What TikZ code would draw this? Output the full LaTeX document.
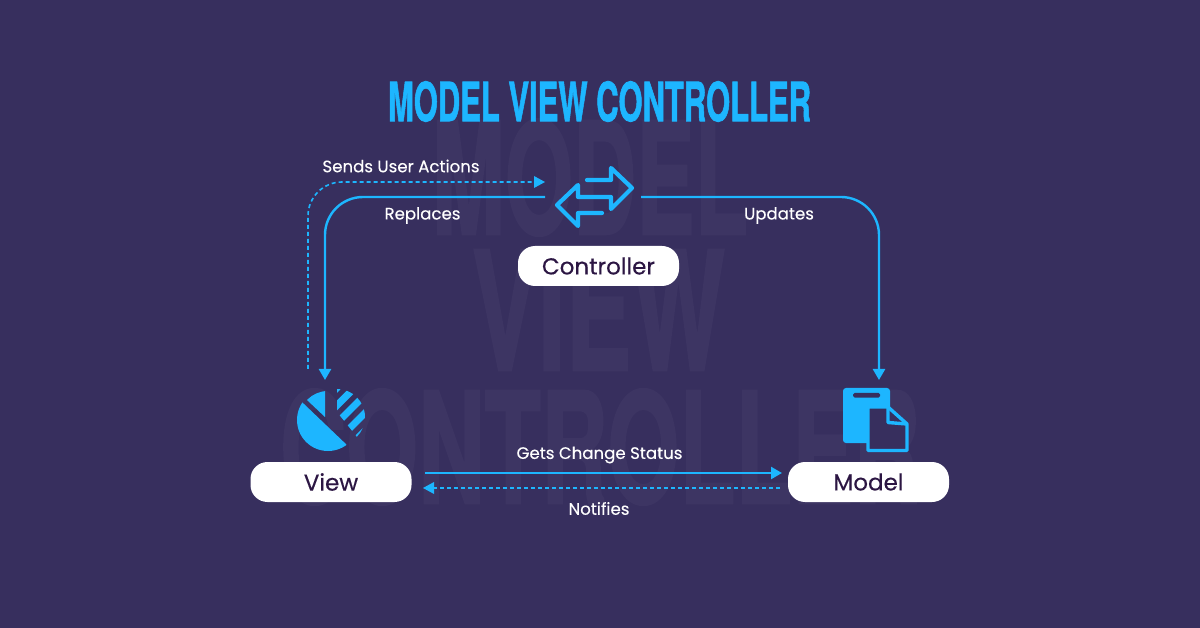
\documentclass[tikz,border=0pt]{standalone}
\usepackage{fontspec}
\setmainfont{Poppins}
\newfontfamily\pillfont[FakeBold=0.35]{Poppins}
\newfontfamily\labfont[FakeBold=0.2]{Poppins}
\newfontfamily\headfont[BoldFeatures={FakeBold=1.6}]{TeX Gyre Heros}
\usetikzlibrary{arrows.meta}
\definecolor{bgc}{HTML}{372F5E}
\definecolor{wmc}{HTML}{3D3563}
\definecolor{blu}{HTML}{1DB6FF}
\definecolor{ink}{HTML}{2C1643}
\tikzset{
  pill/.style={fill=white,rounded corners=17pt,minimum width=161pt,minimum height=40pt,inner sep=0pt,text=ink,font=\pillfont\fontsize{23}{26}\selectfont},
  lab/.style={text=white,inner sep=0pt,font=\labfont\fontsize{16.6}{19}\selectfont},
  wm/.style={text=wmc,inner sep=0pt,font=\headfont\bfseries},
  conn/.style={draw=blu,line width=2.4pt,-{Triangle[length=11pt,width=12pt]}},
  dashconn/.style={draw=blu,line width=1.6pt,dash pattern=on 4pt off 3pt,-{Triangle[length=11pt,width=12pt,line width=0pt,sep=0pt]}},
  iconline/.style={draw=blu,line width=4.2pt,line join=round,line cap=round}
}
\begin{document}
\begin{tikzpicture}[x=1pt,y=-1pt]
\fill[bgc] (0,0) rectangle (1200,628);
\useasboundingbox (0,0) rectangle (1200,628);
% watermark
\node[wm] (wmModel) at (590,177.5) {\resizebox{316pt}{115pt}{MODEL}};
\node[wm] (wmView) at (598.5,310) {\resizebox{253pt}{120pt}{VIEW}};
\node[wm] (wmController) at (600,447) {\resizebox{640pt}{114pt}{CONTROLLER}};
% title
\node[inner sep=0pt,text=blu,font=\headfont\bfseries] (title) at (599.5,101.5) {\resizebox{423pt}{40pt}{MODEL VIEW CONTROLLER}};
% pills
\node[pill] (controller) at (598.5,266) {Controller};
\node[pill] (view) at (331,482) {View};
\node[pill] (model) at (868.5,482) {Model};
% labels
\node[lab] (lsend) at (401,166) {Sends User Actions};
\node[lab] (lrepl) at (422.5,215.5) {Replaces};
\node[lab] (lupd) at (779,215.5) {Updates};
\node[lab] (lgets) at (599.5,455) {Gets Change Status};
\node[lab] (lnoti) at (599,508.5) {Notifies};
% controller icon
\draw[iconline] (587,180) -- (611,180) -- (611,168) -- (632,188) -- (611,209) -- (611,197) -- (578,197) -- (578,185) -- (557,205) -- (578,226) -- (578,213) -- (602,213);
% view icon
\begin{scope}
  \clip (328,420) circle (31);
  \fill[blu] (293,393.5) -- (360,457.5) -- (300,480) -- (270,430) -- cycle;
\end{scope}
\begin{scope}
  \clip (328,420) circle (29);
  \fill[blu] (325,417) -- (325,380) -- (290,380) -- (290,384) -- cycle;
\end{scope}
\begin{scope}
  \clip (337,417) circle (28);
  \clip (337,412) -- (337,380) -- (380,380) -- (380,467) -- (377,462) -- cycle;
  \foreach \s in {725,742.3,760,778,795.7}{
    \draw[blu,line width=7pt] ({\s-417+40},{417-40}) -- ({\s-417-40},{417+40});
  }
\end{scope}
% model icon
\fill[blu,rounded corners=3pt] (843,388) rectangle (890,443);
\fill[bgc,rounded corners=1.5pt] (853,393) rectangle (880,397.5);
\draw[blu,line width=3.4pt,line join=round,fill=bgc] (868,407) -- (888,407) -- (907,424) -- (907,450.5) -- (868,450.5) -- cycle;
\draw[blu,line width=3.4pt,line join=round] (888,407) -- (888,422.5) -- (907,424);
% connector ends
\coordinate (replStart) at (545,197);
\coordinate (replEnd) at (325,380);
\coordinate (updStart) at (641,197);
\coordinate (updEnd) at (879,380);
\coordinate (sendStart) at (308,369);
\coordinate (sendEnd) at (545,182);
\coordinate (getsStart) at (425,473);
\coordinate (getsEnd) at (782,473);
\coordinate (notiStart) at (780,488);
\coordinate (notiEnd) at (423,488);
% connectors
\draw[conn,rounded corners=38pt] (replStart) -| (replEnd);
\draw[conn,rounded corners=38pt] (updStart) -| (updEnd);
\draw[dashconn,rounded corners=34pt] (sendStart) |- (sendEnd);
\draw[conn] (getsStart) -- (getsEnd);
\draw[dashconn] (notiStart) -- (notiEnd);
\end{tikzpicture}
\end{document}
